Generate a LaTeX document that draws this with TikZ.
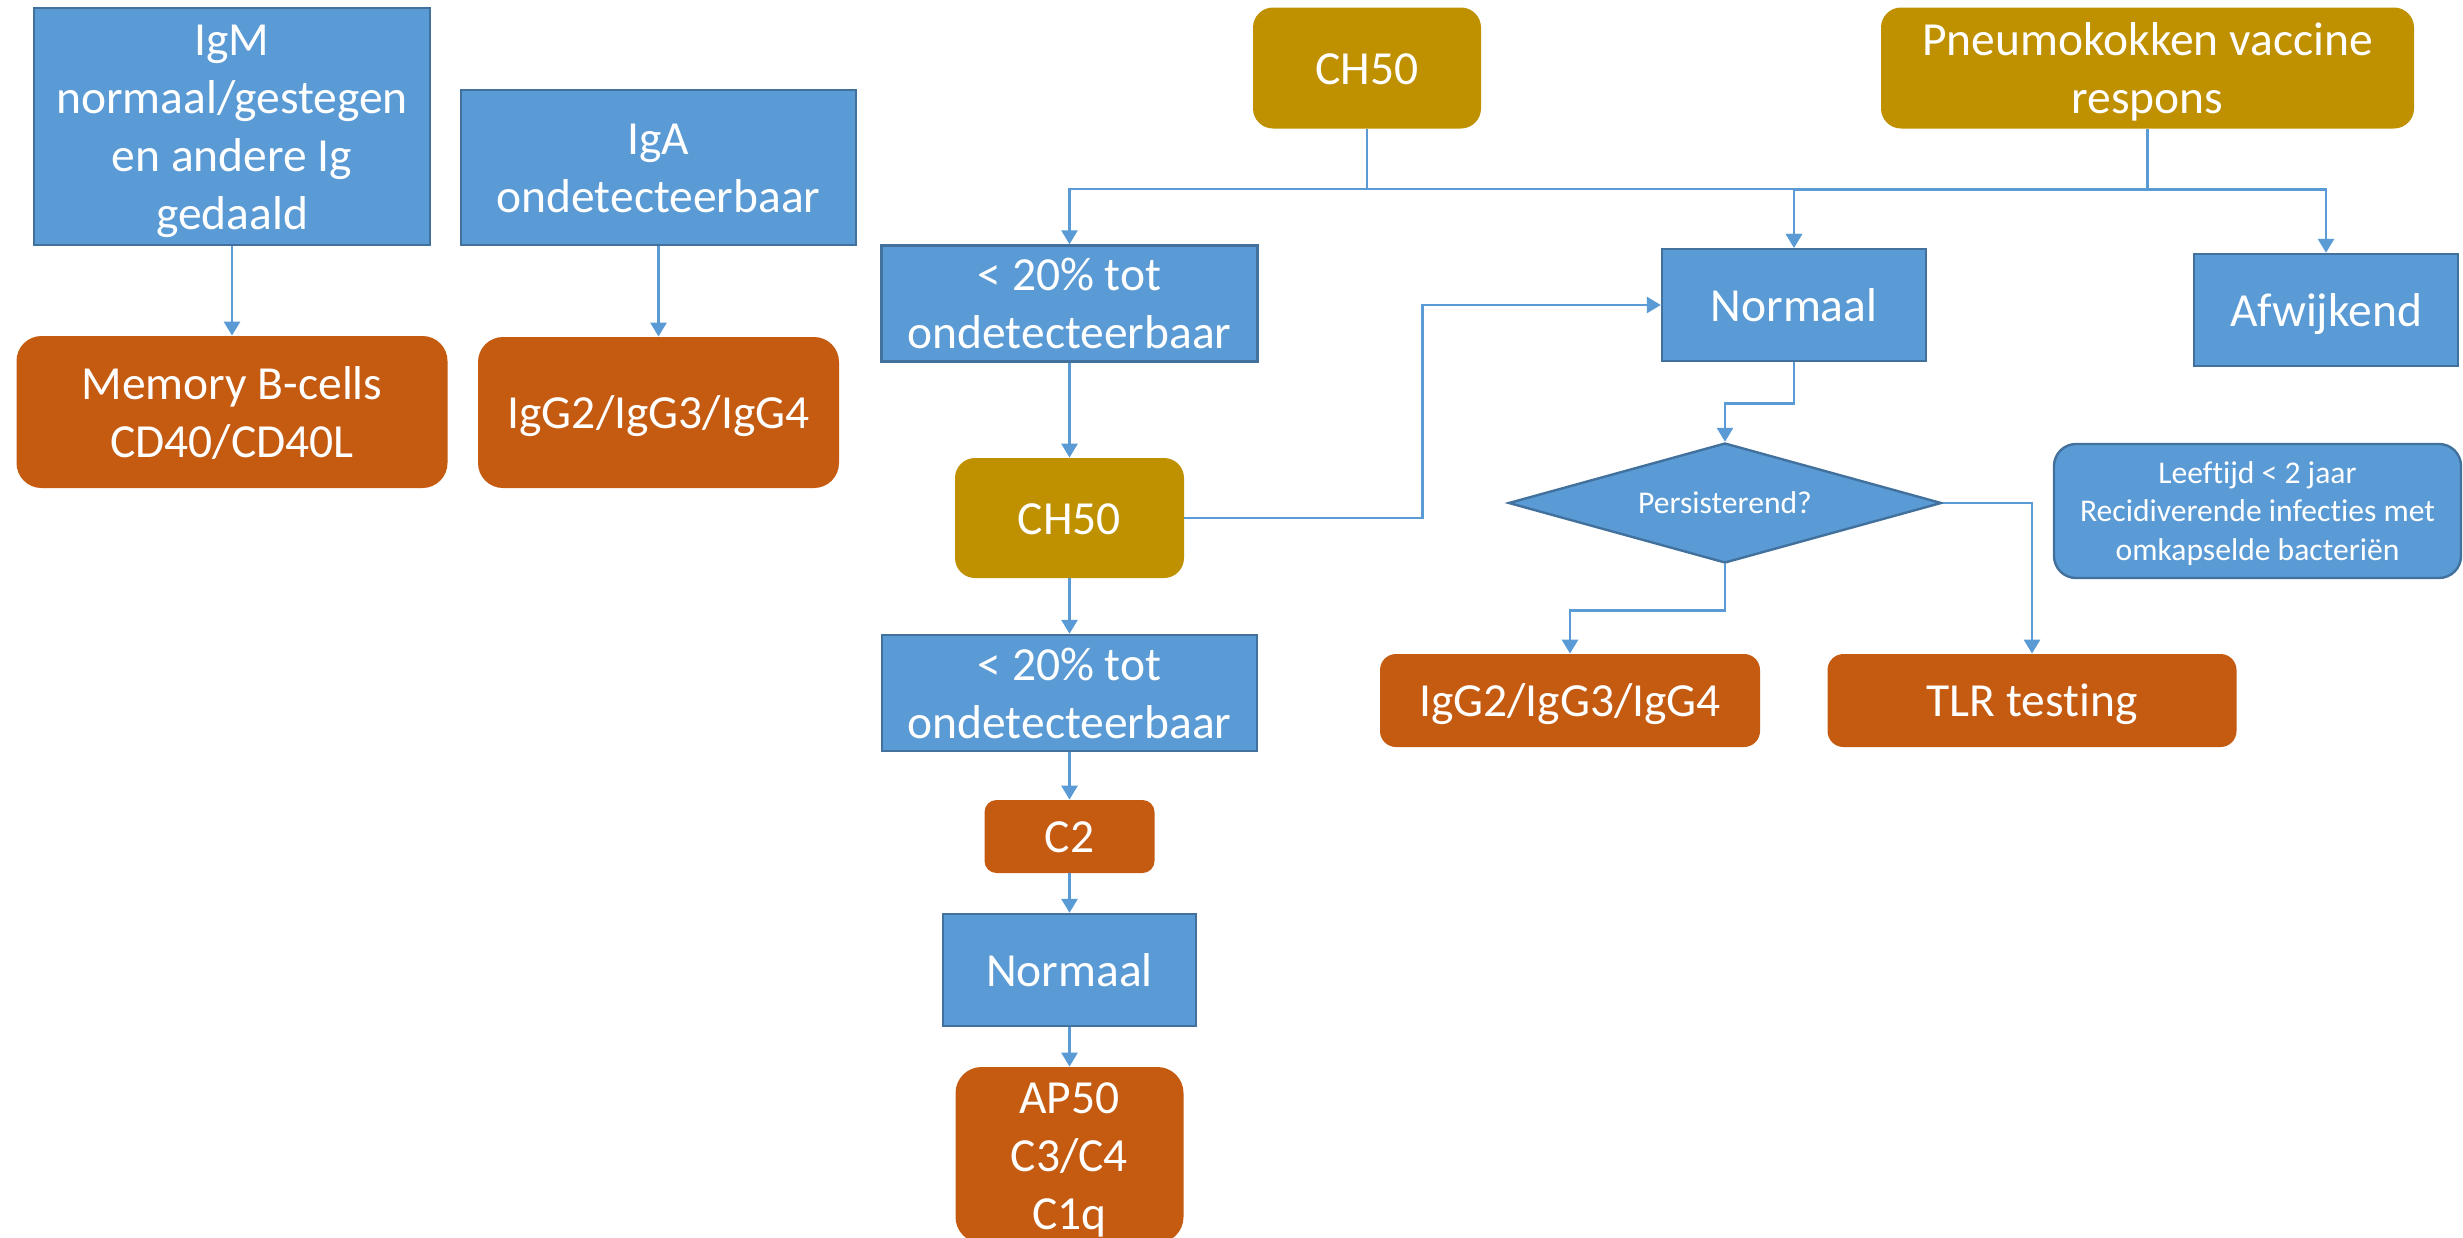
\documentclass[tikz,border=0pt]{standalone}
\usepackage{fontspec}
\setmainfont{Carlito}[Ligatures={NoCommon}]
\usetikzlibrary{shapes.geometric,arrows.meta}
\definecolor{bfill}{HTML}{5B9BD5}
\definecolor{bline}{HTML}{41719C}
\definecolor{gold}{HTML}{BF9000}
\definecolor{orng}{HTML}{C55A11}
\newcommand\tstrut{\rule{0pt}{0.952em}}
\begin{document}
\begin{tikzpicture}[x=0.5pt,y=-0.5pt,
  sz/.style 2 args={minimum width=#1*0.5pt, minimum height=#2*0.5pt},
  base/.style={text=white, inner sep=0pt, align=center, text depth=6.4pt, font=\fontsize{23.75}{29}\selectfont},
  small/.style={text depth=4.25pt, font=\fontsize{15.8}{19.3}\selectfont},
  bbox/.style={base, rectangle, fill=bfill, draw=bline, line width=1.2pt},
  gbox/.style={base, rectangle, fill=gold, rounded corners=#1},
  obox/.style={base, rectangle, fill=orng, rounded corners=#1},
  conn/.style={draw=bfill, line width=1.4pt, -{Triangle[width=8pt,length=7pt]}}]
\path[use as bounding box] (0,0) rectangle (2463,1237);
\clip (0,0) rectangle (2463,1237);

% left part
\node[bbox, sz={396}{237}] (igm) at (232,126.5) {\tstrut IgM\\normaal/gestegen\\en andere Ig\\gedaald};
\node[bbox, sz={395}{155}] (iga) at (658.5,167.5) {\tstrut IgA\\ondetecteerbaar};
\node[obox=12.5pt, sz={431}{152}] (mem) at (232,412) {\tstrut Memory B-cells\\CD40/CD40L};
\node[obox=12.5pt, sz={361}{151}] (igga) at (658.5,412.5) {\tstrut IgG2/IgG3/IgG4};

% top
\node[gbox=10pt, sz={228}{121}] (ch50a) at (1367,68) {\tstrut CH50};
\node[gbox=10pt, sz={533}{121}] (pneu) at (2147.5,68) {\tstrut Pneumokokken vaccine\\respons};

% second row
\node[bbox, sz={376}{113}] (lta) at (1069.5,303.5) {\tstrut < 20\% tot\\ondetecteerbaar};
\node[bbox, sz={264}{112}] (norma) at (1794,305) {\tstrut Normaal};
\node[bbox, sz={264}{112}] (afw) at (2326,310) {\tstrut Afwijkend};

% third row
\node[gbox=10pt, sz={229}{120}] (ch50b) at (1069.5,518) {\tstrut CH50};
\node[base, small, diamond, aspect=3.6, fill=bfill, draw=bline, line width=1.2pt, sz={433}{120}] (dia) at (1725,503) {\tstrut Persisterend?};
\node[base, small, rectangle, rounded corners=11pt, fill=bfill, draw=bline, line width=1.2pt, sz={407}{134}] (leef) at (2257.5,511) {\tstrut Leeftijd < 2 jaar\\Recidiverende infecties met\\omkapselde bacteriën};

% fourth row
\node[bbox, sz={375}{112}] (ltb) at (1069.5,693) {\tstrut < 20\% tot\\ondetecteerbaar};
\node[obox=8pt, sz={380}{93}] (iggb) at (1570,700.5) {\tstrut IgG2/IgG3/IgG4};
\node[obox=8pt, sz={409}{93}] (tlr) at (2032,700.5) {\tstrut TLR testing};

% bottom column
\node[obox=6pt, sz={170}{73}] (c2) at (1069.5,836.5) {\tstrut C2};
\node[bbox, sz={253}{112}] (normb) at (1069.5,970) {\tstrut Normaal};
\node[obox=13pt, sz={228}{176}] (ap50) at (1069.5,1155) {\tstrut AP50\\C3/C4\\C1q};

% connectors
\draw[conn] (igm.south) -- (mem.north);
\draw[conn] (iga.south) -- (igga.north);
\draw[conn] (ch50a.south) -- ++(0,60) -| (lta.north);
\draw[conn] (ch50a.south) -- ++(0,60) -| (norma.north);
\draw[conn] (pneu.south) -- ++(0,60.5) -| (norma.north);
\draw[conn] (pneu.south) -- ++(0,60.5) -| (afw.north);
\draw[conn] (lta.south) -- (ch50b.north);
\draw[conn] (ch50b.east) -- ++(238,0) |- (norma.west);
\draw[conn] (norma.south) -- ++(0,41) -| (dia.north);
\draw[conn] (dia.east) -| (tlr.north);
\draw[conn] (dia.south) -- ++(0,46) -| (iggb.north);
\draw[conn] (ch50b.south) -- (ltb.north);
\draw[conn] (ltb.south) -- (c2.north);
\draw[conn] (c2.south) -- (normb.north);
\draw[conn] (normb.south) -- (ap50.north);
\end{tikzpicture}
\end{document}
